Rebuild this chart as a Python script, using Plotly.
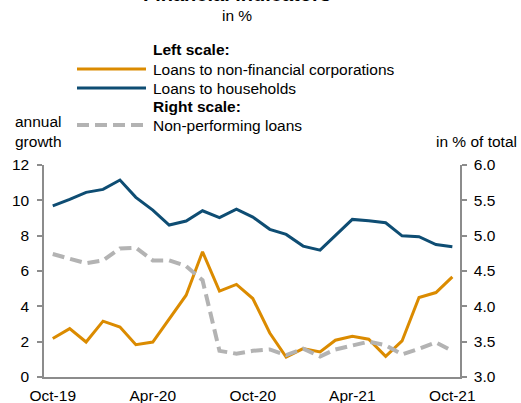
import plotly.graph_objects as go
import pandas as pd

# monthly, Oct-19 .. Oct-21
months = pd.date_range("2019-10-01", "2021-10-01", freq="MS")

# left scale, annual growth in %
loans_nfc = [2.18, 2.74, 1.98, 3.16, 2.83, 1.83, 1.98, 3.31, 4.63, 7.09, 4.86, 5.24, 4.44,
             2.49, 1.13, 1.61, 1.42, 2.08, 2.31, 2.14, 1.17, 2.04, 4.50, 4.78, 5.67]
loans_hh = [9.69, 10.05, 10.45, 10.62, 11.15, 10.17, 9.45, 8.60, 8.83, 9.41, 9.02, 9.50, 9.05,
            8.36, 8.07, 7.41, 7.18, 8.03, 8.92, 8.84, 8.73, 7.99, 7.94, 7.50, 7.37]
# right scale, in % of total
npl = [4.74, 4.68, 4.61, 4.65, 4.82, 4.83, 4.65, 4.65, 4.57, 4.37, 3.37, 3.33, 3.37,
       3.39, 3.31, 3.40, 3.29, 3.39, 3.44, 3.50, 3.45, 3.32, 3.40, 3.49, 3.37]

ORANGE = "#DB8B00"
BLUE = "#0E4D73"
GREY = "#B3B3B3"
AXIS = "#8C8C8C"
FONT = "Liberation Sans, Arial, sans-serif"
FS = 15.5

W, H = 521, 403
L, R, T, B = 44, 521 - 460, 165, 403 - 377
pw, ph = W - L - R, H - T - B


def px_x(x):
    return (x - L) / pw


def px_y(y):
    return (H - B - y) / ph


fig = go.Figure()
fig.add_trace(go.Scatter(x=months, y=npl, yaxis="y2", mode="lines",
                         line=dict(color=GREY, width=4, dash="12px,6px"),
                         name="Non-performing loans"))
fig.add_trace(go.Scatter(x=months, y=loans_nfc, mode="lines",
                         line=dict(color=ORANGE, width=3),
                         name="Loans to non-financial corporations"))
fig.add_trace(go.Scatter(x=months, y=loans_hh, mode="lines",
                         line=dict(color=BLUE, width=3), name="Loans to households"))

axis_style = dict(showgrid=False, zeroline=False, showline=True, linecolor=AXIS,
                  linewidth=1.5, tickfont=dict(size=FS), automargin=False)

fig.update_layout(
    width=W, height=H,
    margin=dict(l=L, r=R, t=T, b=B),
    plot_bgcolor="white", paper_bgcolor="white",
    showlegend=False,
    font=dict(family=FONT, size=FS, color="black"),
    xaxis=dict(range=["2019-09-15", "2021-10-15"], tickformat="%b-%y", dtick="M6",
               tick0="2019-10-01", ticks="", ticklabelstandoff=4, **axis_style),
    yaxis=dict(range=[0, 12], dtick=2, ticks="outside", ticklen=5, tickcolor=AXIS,
               tickwidth=1.5, ticklabelstandoff=5, **axis_style),
    yaxis2=dict(range=[3, 6], dtick=0.5, tickformat=".1f", overlaying="y", side="right",
                ticks="outside", ticklen=5, tickcolor=AXIS, tickwidth=1.5,
                ticklabelstandoff=4, **axis_style),
)

# hand-made legend
legend_rows = [
    (69, dict(color=ORANGE, width=3), "Loans to non-financial corporations"),
    (88, dict(color=BLUE, width=3), "Loans to households"),
    (125, dict(color=GREY, width=4, dash="12px,6px"), "Non-performing loans"),
]
for ypix, ln, label in legend_rows:
    fig.add_shape(type="line", xref="paper", yref="paper",
                  x0=px_x(77), x1=px_x(146), y0=px_y(ypix), y1=px_y(ypix), line=ln)
    fig.add_annotation(xref="paper", yref="paper", x=px_x(151), y=px_y(ypix),
                       text=label, showarrow=False, xanchor="left", yanchor="middle")
for ypix, label in [(50, "<b>Left scale:</b>"), (107, "<b>Right scale:</b>")]:
    fig.add_annotation(xref="paper", yref="paper", x=px_x(151), y=px_y(ypix),
                       text=label, showarrow=False, xanchor="left", yanchor="middle")

# titles (main title sits mostly above the top edge, as in the source image)
fig.add_annotation(xref="paper", yref="paper", x=px_x(237), y=px_y(-6),
                   text="<b>Financial indicators</b>", showarrow=False,
                   xanchor="center", yanchor="middle", font=dict(size=20))
fig.add_annotation(xref="paper", yref="paper", x=px_x(237), y=px_y(15),
                   text="in %", showarrow=False, xanchor="center", yanchor="middle")
fig.add_annotation(xref="paper", yref="paper", x=px_x(13), y=px_y(131),
                   text="annual<br>growth", showarrow=False, xanchor="left",
                   yanchor="middle", align="left")
fig.add_annotation(xref="paper", yref="paper", x=px_x(519), y=px_y(141),
                   text="in % of total", showarrow=False, xanchor="right",
                   yanchor="middle")

# drop the default 8px page margin so the figure fills the window
fig.write_html("out.html", config={"displayModeBar": False},
               post_script="document.body.style.margin = '0';")
